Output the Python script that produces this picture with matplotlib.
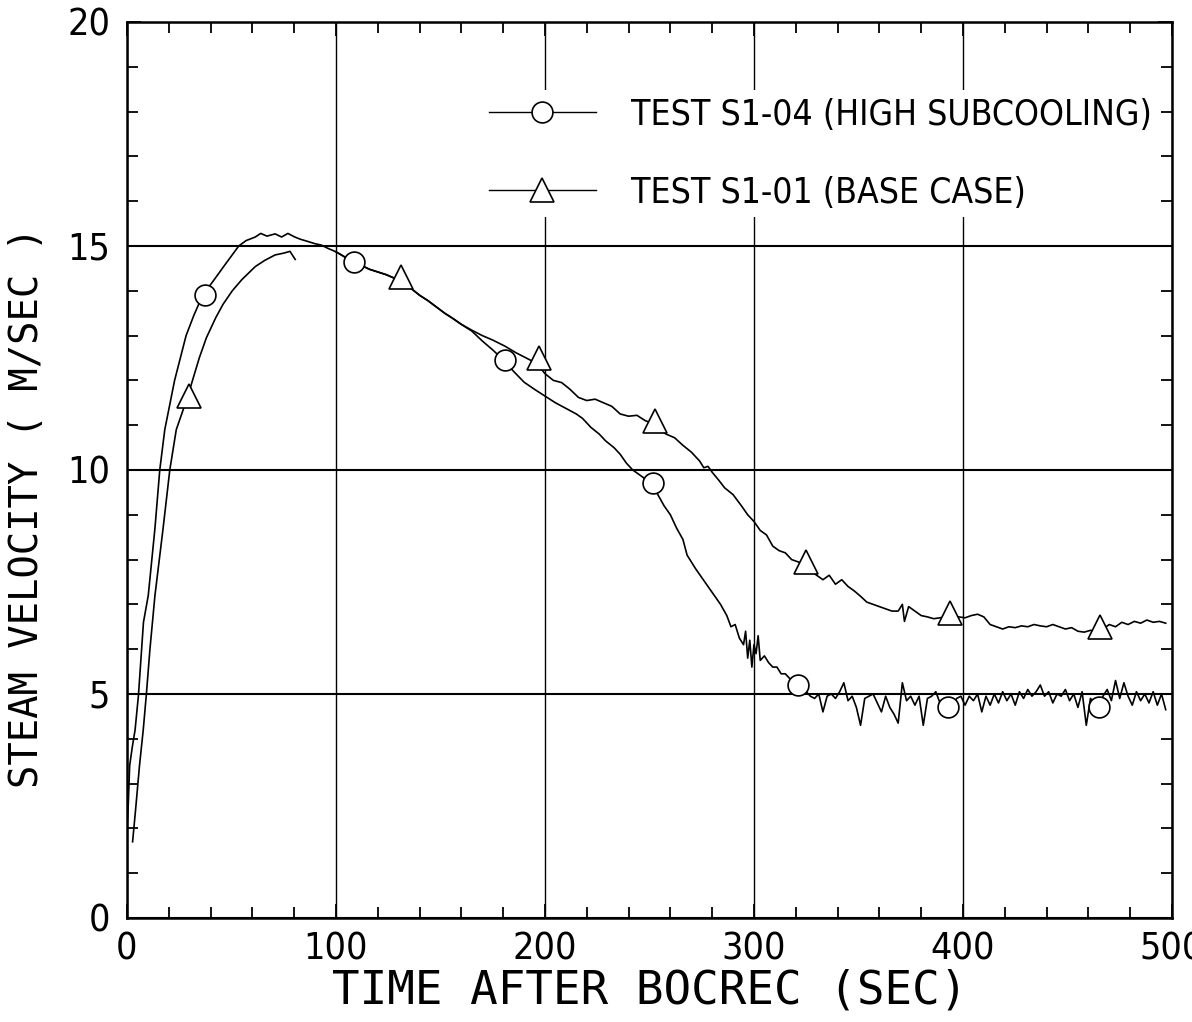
import os
import numpy as np
import matplotlib
matplotlib.use("Agg")
import matplotlib.pyplot as plt
from matplotlib.lines import Line2D
from matplotlib.ticker import MultipleLocator
from matplotlib import font_manager
from matplotlib.font_manager import FontProperties


# schmale Schrift suchen (Narrow / Condensed), sonst DejaVu Sans
def find_narrow():
    best = None
    for f in font_manager.fontManager.ttflist:
        base = os.path.basename(f.fname)
        tag = f.name + " " + base
        if f.style != "normal":
            continue
        if not ("Narrow" in tag or "Condensed" in tag or "condensed" in str(f.stretch)):
            continue
        if "Extra" in base or "Ultra" in base or "Semi" in base or "Mono" in tag:
            continue
        w = f.weight if isinstance(f.weight, int) else 400
        score = abs(w - 350)
        if best is None or score < best[0]:
            best = (score, f.fname)
    return best[1] if best else None


narrow_file = find_narrow()


def nfont(size):
    if narrow_file:
        return FontProperties(fname=narrow_file, size=size)
    return FontProperties(family="DejaVu Sans", size=size * 0.8)


# 1. Daten
# TEST S1-04 (HIGH SUBCOOLING)
t_s104 = [0.0, 0.6, 1.3, 2.5, 3.9, 5.5, 7.9, 10.2, 13.4, 15.7, 18.1, 22.8, 28.3, 32.0,
          36.2, 41.0, 47.2, 53.5, 57.0, 61.4, 64.0, 67.0, 70.9, 74.0, 77.0, 80.3, 83.0,
          86.6, 90.0, 93.0, 96.0, 100, 104, 108, 112, 116, 120, 124, 128, 132, 136, 140,
          144, 148, 152, 156, 160, 165, 170, 175, 180, 185, 190, 195, 200, 205, 211, 215,
          218, 222, 226, 229, 233, 236, 239, 242, 245, 248, 251, 254, 257, 260, 263, 266,
          268, 270, 272, 275, 278, 281, 284, 287, 289, 291, 293, 295, 296, 297, 298, 299,
          300, 301, 302, 303, 305, 307, 309, 311, 313, 315, 317, 319, 321, 323,
          325, 327, 329, 331, 333, 335, 337, 339, 341, 343, 345, 347, 349, 351, 353, 355,
          357, 359, 361, 363, 365, 367, 369, 371, 373, 375, 377, 379, 381, 383, 385, 387,
          389, 391, 393, 395, 397, 399, 401, 403, 405, 407, 409, 411, 413, 415, 417, 419,
          421, 423, 425, 427, 429, 431, 433, 435, 437, 439, 441, 443, 445, 447, 449, 451,
          453, 455, 457, 459, 461, 463, 465, 467, 469, 471, 473, 475, 477, 479, 481, 483,
          485, 487, 489, 491, 493, 495, 497]
v_s104 = [2.0, 2.5, 3.4, 3.8, 4.2, 4.97, 6.6, 7.2, 8.7, 10.0, 10.9, 12.0, 13.0, 13.45,
          13.9, 14.2, 14.6, 15.0, 15.12, 15.2, 15.28, 15.22, 15.27, 15.2, 15.28, 15.2, 15.15,
          15.1, 15.05, 15.02, 14.95, 14.87, 14.76, 14.66, 14.57, 14.48, 14.42, 14.36, 14.28,
          14.2, 14.05, 13.9, 13.78, 13.64, 13.5, 13.38, 13.25, 13.1, 12.88, 12.68, 12.46,
          12.2, 11.96, 11.8, 11.65, 11.5, 11.35, 11.25, 11.15, 10.95, 10.8, 10.65, 10.5,
          10.35, 10.15, 10.0, 9.9, 9.8, 9.7, 9.45, 9.2, 9.0, 8.7, 8.45, 8.1, 7.95, 7.8, 7.6,
          7.4, 7.2, 7.0, 6.75, 6.5, 6.55, 6.25, 6.1, 6.4, 5.8, 6.2, 5.6, 6.1, 5.9, 6.3, 5.75,
          5.85, 5.7, 5.6, 5.6, 5.45, 5.45, 5.35, 5.3, 5.2, 5.1,
          5.05, 4.95, 4.9, 5.0, 4.6, 4.95, 5.0, 4.9, 5.05, 5.25, 4.85, 4.95, 4.7, 4.3, 4.9, 4.95,
          5.0, 4.8, 4.6, 4.95, 4.7, 4.55, 4.35, 5.25, 4.85, 4.95, 4.75, 4.95, 4.3, 4.9, 4.95, 5.05,
          4.8, 4.7, 4.65, 4.75, 4.9, 4.95, 4.75, 4.95, 4.85, 5.0, 4.6, 4.95, 4.75, 5.0, 4.8, 5.05,
          4.85, 5.0, 4.75, 5.05, 4.9, 5.1, 4.95, 5.05, 5.2, 4.95, 5.05, 4.8, 5.0, 4.95, 5.1, 4.85,
          5.0, 4.7, 5.05, 4.3, 4.9, 4.8, 4.75, 4.95, 5.1, 4.85, 5.3, 4.9, 5.25, 4.95, 4.75, 5.05,
          4.85, 5.0, 4.8, 5.05, 4.75, 5.0, 4.65]

# TEST S1-01 (BASE CASE), Luecke zwischen ca. 80 und 100 s
t_s101 = [2.7, 4.1, 6.0, 7.8, 9.3, 11.0, 13.4, 17.3, 20.5, 23.6, 28.8, 34.6, 38.0, 42.5,
          46.0, 50.4, 55.0, 61.4, 66.0, 70.9, 75.0, 78.0, 80.5, np.nan,
          100, 104, 108, 112, 116, 120, 124, 128, 132, 136, 140, 144, 148, 152, 156, 160,
          165, 170, 175, 181, 186, 191, 196, 200, 204, 208, 212, 216, 220, 224, 228, 232,
          236, 240, 244, 248, 251, 254, 258, 262, 266, 270, 274, 276, 278, 280, 283, 286,
          290, 294, 297, 300, 303, 306, 309, 312, 315, 318, 321, 324, 327, 330, 333, 336,
          339, 342, 345, 348, 351, 354, 357, 360, 363, 366, 369, 371, 372, 374, 377, 380,
          383, 386, 389, 392, 395, 398, 401, 404, 407, 410, 413, 416, 419, 422, 425, 428,
          431, 434, 437, 440, 443, 446, 449, 452, 455, 458, 461, 464, 467, 470, 473, 476,
          479, 482, 485, 488, 491, 494, 497]
v_s101 = [1.7, 2.4, 3.4, 4.2, 5.0, 6.0, 7.2, 8.7, 10.0, 10.9, 11.6, 12.5, 12.95, 13.4,
          13.7, 14.0, 14.25, 14.54, 14.68, 14.8, 14.84, 14.88, 14.7, np.nan,
          14.87, 14.76, 14.66, 14.57, 14.48, 14.42, 14.36, 14.28, 14.2, 14.05, 13.9, 13.78,
          13.64, 13.5, 13.38, 13.25, 13.12, 13.0, 12.9, 12.76, 12.62, 12.5, 12.38, 12.15,
          12.0, 11.95, 11.8, 11.62, 11.55, 11.58, 11.5, 11.42, 11.25, 11.2, 11.22, 11.1,
          11.05, 10.92, 10.8, 10.72, 10.55, 10.4, 10.2, 10.05, 10.08, 9.95, 9.78, 9.6, 9.45,
          9.2, 9.0, 8.85, 8.65, 8.55, 8.3, 8.2, 8.15, 8.0, 7.95, 7.9, 7.75, 7.65, 7.55, 7.65,
          7.45, 7.55, 7.4, 7.3, 7.18, 7.05, 7.0, 6.95, 6.9, 6.85, 6.85, 7.0, 6.62, 6.95, 6.85,
          6.75, 6.72, 6.68, 6.7, 6.72, 6.7, 6.72, 6.7, 6.75, 6.78, 6.72, 6.55, 6.5, 6.45, 6.5,
          6.48, 6.52, 6.5, 6.55, 6.52, 6.5, 6.55, 6.5, 6.45, 6.48, 6.4, 6.38, 6.42, 6.4, 6.45,
          6.55, 6.5, 6.6, 6.55, 6.62, 6.58, 6.65, 6.6, 6.62, 6.58]

# Symbole
circ_t = [37.5, 108.5, 181, 251.5, 321, 393, 465]
circ_v = [13.9, 14.64, 12.45, 9.7, 5.2, 4.7, 4.72]
tri_t = [29.5, 131, 197, 252.5, 325, 394, 465.5]
tri_v = [11.65, 14.3, 12.5, 11.1, 7.95, 6.8, 6.5]

labels = ["TEST S1-04 (HIGH SUBCOOLING)", "TEST S1-01 (BASE CASE)"]
x_ticks = [0, 100, 200, 300, 400, 500]
y_ticks = [0, 5, 10, 15, 20]

# 2. Plot
fig = plt.figure(figsize=(11.92, 10.22), dpi=100)
ax = fig.add_axes([0.1065, 0.1018, 0.8767, 0.8767])

ax.plot(t_s104, v_s104, color="black", lw=1.2)
ax.plot(t_s101, v_s101, color="black", lw=1.2)
ax.plot(circ_t, circ_v, "o", ms=15, mfc="white", mec="black", mew=1.2)
ax.plot(tri_t, tri_v, "^", ms=17, mfc="white", mec="black", mew=1.2)

ax.set_xlim(0, 500)
ax.set_ylim(0, 20)
ax.set_xticks(x_ticks)
ax.set_yticks(y_ticks)
ax.xaxis.set_minor_locator(MultipleLocator(20))
ax.yaxis.set_minor_locator(MultipleLocator(1))
ax.tick_params(which="both", direction="in", top=True, right=True, width=1.3)
ax.tick_params(which="major", length=10)
ax.tick_params(axis="x", which="major", pad=10)
ax.tick_params(axis="y", which="major", pad=12)
ax.tick_params(which="minor", length=8)
for lab in ax.get_xticklabels() + ax.get_yticklabels():
    lab.set_fontproperties(nfont(27))
ax.grid(axis="y", color="black", lw=1.5)
ax.grid(axis="x", color="black", lw=1.0)
for s in ax.spines.values():
    s.set_linewidth(1.8)

# Legende
h1 = Line2D([], [], color="black", lw=1.0, marker="o", ms=15, mfc="white", mec="black", mew=1.2)
h2 = Line2D([], [], color="black", lw=1.0, marker="^", ms=17, mfc="white", mec="black", mew=1.2)
ax.legend([h1, h2], labels, loc="center left", bbox_to_anchor=(0.340, 0.853),
          frameon=True, facecolor="white", edgecolor="none", framealpha=1, fancybox=False,
          handlelength=3.0, handletextpad=1.0, labelspacing=1.25, borderpad=0.2,
          borderaxespad=0, numpoints=1, prop=nfont(25.5))

# Achsentitel
fig.text(0.545, 1 - 991 / 1022, "TIME AFTER BOCREC (SEC)", family="DejaVu Sans Mono",
         size=33, ha="center", va="center")
fig.text(0.023, 1 - 508 / 1022, "STEAM VELOCITY ( M/SEC )", family="DejaVu Sans Mono",
         size=28, rotation=90, ha="center", va="center")

fig.savefig("out.png", dpi=100)
